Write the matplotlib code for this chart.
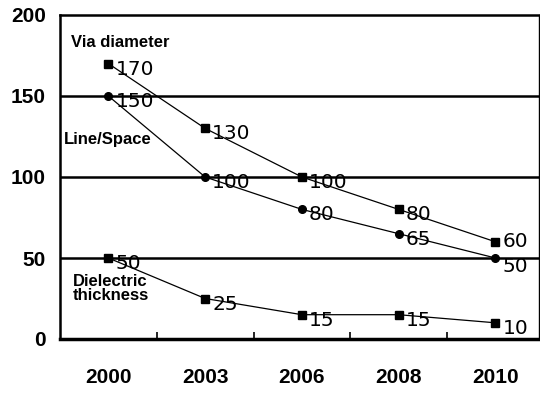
import matplotlib.pyplot as plt
import numpy as np

YEARS = ["2000", "2003", "2006", "2008", "2010"]
VIA_DIAMETER = [170, 130, 100, 80, 60]
LINE_SPACE = [150, 100, 80, 65, 50]
DIELECTRIC = [50, 25, 15, 15, 10]
Y_TICKS = [0, 50, 100, 150, 200]

plt.rcParams["font.family"] = ["Liberation Sans", "DejaVu Sans"]

fig = plt.figure(figsize=(5.4, 3.94), dpi=100)
ax = fig.add_axes([60 / 540, 1 - 339 / 394, (539 - 60) / 540, (339 - 15) / 394])

x = np.arange(len(YEARS))

# ── series ──────────────────────────────────────────────────────────────────
# (values, marker, vertical nudge of the last label in points)
series = [
    (VIA_DIAMETER, "s", 0),
    (LINE_SPACE, "o", -6),
    (DIELECTRIC, "s", -4),
]
for vals, mk, last_dy in series:
    ax.plot(x, vals, color="black", linewidth=0.9, marker=mk, markersize=5.5,
            markerfacecolor="black", markeredgecolor="black", zorder=3)
    for i, (xi, v) in enumerate(zip(x, vals)):
        dy = last_dy if i == len(vals) - 1 else -4
        ax.annotate(str(v), (xi, v), xytext=(5, dy), textcoords="offset points",
                    ha="left", va="center", fontsize=14.5, family="DejaVu Sans",
                    zorder=4)

# ── series names ────────────────────────────────────────────────────────────
name_kw = dict(fontsize=12, fontweight="bold", ha="left", va="center")
ax.text(-0.39, 183, "Via diameter", **name_kw)
ax.text(-0.46, 123, "Line/Space", **name_kw)
ax.text(-0.37, 31, "Dielectric\nthickness", linespacing=0.95, **name_kw)

# ── axes styling ────────────────────────────────────────────────────────────
ax.set_xlim(-0.5, 4.45)
ax.set_ylim(0, 200)
for yv in [50, 100, 150]:
    ax.axhline(yv, color="black", linewidth=1.8, zorder=1)

ax.set_yticks(Y_TICKS)
ax.set_yticklabels([str(v) for v in Y_TICKS], fontsize=15, fontweight="bold")
ax.tick_params(axis="y", length=0, pad=10)

ax.set_xticks(x)
ax.set_xticklabels(YEARS, fontsize=15, fontweight="bold")
ax.tick_params(axis="x", which="major", length=0, pad=21)
ax.set_xticks(x[:-1] + 0.5, minor=True)
ax.tick_params(axis="x", which="minor", direction="in", length=5, width=1.2)

ax.spines["left"].set_linewidth(1.8)
ax.spines["bottom"].set_linewidth(2.5)
ax.spines["top"].set_linewidth(1.8)
ax.spines["right"].set_linewidth(1.0)

fig.savefig("out.png", dpi=100)
plt.close()
